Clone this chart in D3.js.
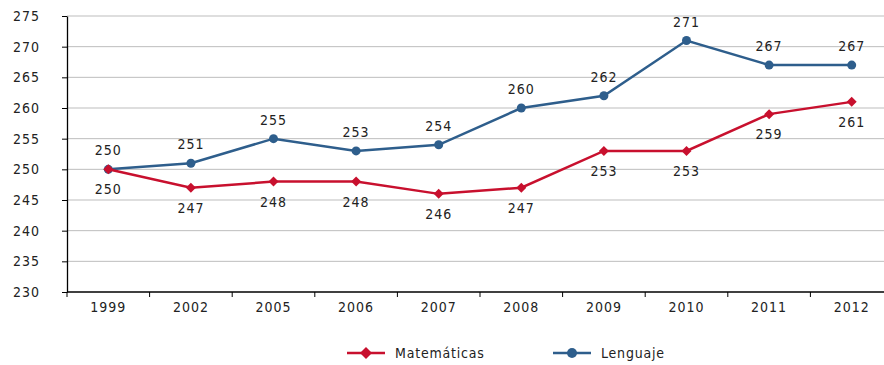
<!DOCTYPE html>
<html>
<head>
<meta charset="utf-8">
<script src="https://cdn.jsdelivr.net/npm/d3@7/dist/d3.min.js"></script>
<style>
  html, body { margin: 0; padding: 0; background: #fff; }
  svg { display: block; }
  text { font-family: "Liberation Sans Narrow", "DejaVu Sans Condensed", "Roboto", sans-serif; font-stretch: condensed; fill: #222; }
</style>
</head>
<body>
<svg id="chart" width="884" height="365"></svg>
<script>
// Average test scores by year
const years = ["1999", "2002", "2005", "2006", "2007", "2008", "2009", "2010", "2011", "2012"];
const matematicas = [250, 247, 248, 248, 246, 247, 253, 253, 259, 261];
const lenguaje = [250, 251, 255, 253, 254, 260, 262, 271, 267, 267];
const yTicks = [230, 235, 240, 245, 250, 255, 260, 265, 270, 275];
const seriesNames = ["Matemáticas", "Lenguaje"];

const colors = { mat: "#c8102e", len: "#2e5e8c" };

const svg = d3.select("#chart");
const plotLeft = 67, plotRight = 893, plotTop = 16, plotBottom = 292;

const x = d3.scaleBand().domain(years).range([plotLeft, plotRight]);
const y = d3.scaleLinear().domain([230, 275]).range([plotBottom, plotTop]);

// horizontal gridlines
svg.append("g")
  .selectAll("line")
  .data(yTicks.filter(d => d !== 230))
  .join("line")
  .attr("x1", plotLeft).attr("x2", 884)
  .attr("y1", d => y(d)).attr("y2", d => y(d))
  .attr("stroke", "#bdbdbd").attr("stroke-width", 1);

// y axis
const yAxis = svg.append("g")
  .attr("transform", `translate(${plotLeft},0)`)
  .call(d3.axisLeft(y).tickValues(yTicks).tickSize(5).tickPadding(22).tickSizeOuter(0));
yAxis.attr("font-family", null).attr("font-size", null);
yAxis.select(".domain").attr("stroke", "#000").attr("stroke-width", 1.3);
yAxis.selectAll(".tick line").attr("stroke", "#000");
yAxis.selectAll("text").attr("font-size", 14).attr("letter-spacing", 1).attr("fill", "#222");

// x axis with ticks between categories
const xAxisG = svg.append("g").attr("transform", `translate(0,${plotBottom})`);
xAxisG.append("line").attr("x1", plotLeft).attr("x2", 884).attr("y1", 0).attr("y2", 0)
  .attr("stroke", "#000").attr("stroke-width", 1.3);
xAxisG.selectAll("line.tk")
  .data(years)
  .join("line").attr("class", "tk")
  .attr("x1", d => x(d)).attr("x2", d => x(d))
  .attr("y1", 0).attr("y2", 5)
  .attr("stroke", "#000");
xAxisG.selectAll("text")
  .data(years)
  .join("text")
  .attr("x", d => x(d) + x.bandwidth() / 2)
  .attr("y", 20)
  .attr("text-anchor", "middle")
  .attr("font-size", 14).attr("letter-spacing", 1)
  .text(d => d);

const cx = d => x(d) + x.bandwidth() / 2;
const line = d3.line().x((d, i) => cx(years[i])).y(d => y(d));

// Lenguaje series
svg.append("path").datum(lenguaje).attr("d", line)
  .attr("fill", "none").attr("stroke", colors.len).attr("stroke-width", 2.5);
svg.append("g").selectAll("circle").data(lenguaje).join("circle")
  .attr("cx", (d, i) => cx(years[i])).attr("cy", d => y(d)).attr("r", 4.5)
  .attr("fill", colors.len);
svg.append("g").selectAll("text").data(lenguaje).join("text")
  .attr("x", (d, i) => cx(years[i])).attr("y", d => y(d) - 14)
  .attr("text-anchor", "middle").attr("font-size", 14).attr("letter-spacing", 1)
  .text(d => d);

// Matemáticas series (square markers turned 45 degrees)
svg.append("path").datum(matematicas).attr("d", line)
  .attr("fill", "none").attr("stroke", colors.mat).attr("stroke-width", 2.5);
const diamond = d3.symbol().type(d3.symbolSquare).size(50);
svg.append("g").selectAll("path").data(matematicas).join("path")
  .attr("d", diamond)
  .attr("transform", (d, i) => `translate(${cx(years[i])},${y(d)}) rotate(45)`)
  .attr("fill", colors.mat);
svg.append("g").selectAll("text").data(matematicas).join("text")
  .attr("x", (d, i) => cx(years[i])).attr("y", d => y(d) + 25)
  .attr("text-anchor", "middle").attr("font-size", 14).attr("letter-spacing", 1)
  .text(d => d);

// legend
const legend = svg.append("g").attr("transform", "translate(0,353)");
const items = [
  { name: seriesNames[0], color: colors.mat, x0: 347, marker: "diamond" },
  { name: seriesNames[1], color: colors.len, x0: 553, marker: "circle" }
];
items.forEach(it => {
  legend.append("line").attr("x1", it.x0).attr("x2", it.x0 + 38).attr("y1", 0).attr("y2", 0)
    .attr("stroke", it.color).attr("stroke-width", 2.5);
  if (it.marker === "diamond") {
    legend.append("path").attr("d", d3.symbol().type(d3.symbolSquare).size(72)())
      .attr("transform", `translate(${it.x0 + 19},0) rotate(45)`).attr("fill", it.color);
  } else {
    legend.append("circle").attr("cx", it.x0 + 19).attr("cy", 0).attr("r", 5).attr("fill", it.color);
  }
  legend.append("text").attr("x", it.x0 + 48).attr("y", 5)
    .attr("font-size", 14).attr("letter-spacing", 0.8).text(it.name);
});
</script>
</body>
</html>
